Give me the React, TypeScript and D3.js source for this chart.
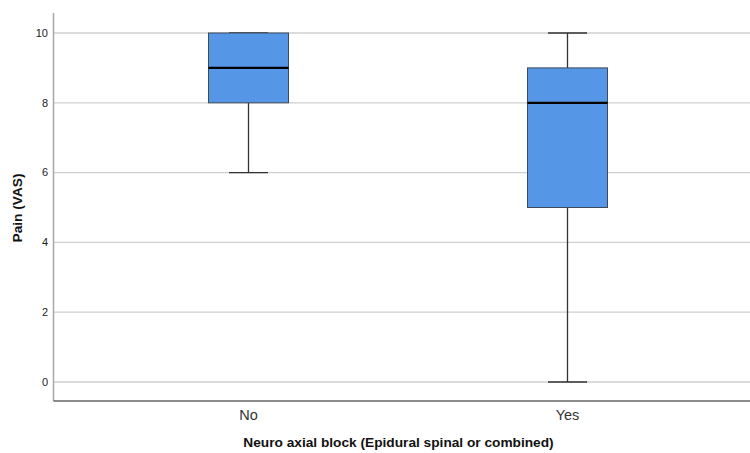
import React from "react";
import * as d3 from "d3";

const categories = ["No", "Yes"];
const minValues = [6, 0];
const q1Values = [8, 5];
const medianValues = [9, 8];
const q3Values = [10, 9];
const maxValues = [10, 10];
const yTicks = [0, 2, 4, 6, 8, 10];

const W = 750;
const H = 453;
const left = 53.5;
const right = 750;
const top = 13;
const bottom = 401;

export default function App() {
  const x = d3.scaleBand<string>().domain(categories).range([89, 727]).padding(0);
  const y = d3.scaleLinear().domain([0, 10]).range([382, 33]);
  const boxW = 80;
  const capW = 39;
  const font = "Liberation Sans, Arial, sans-serif";

  return (
    <svg width={W} height={H} style={{ position: "absolute", left: 0, top: 0 }} fontFamily={font}>
      <rect x={0} y={0} width={W} height={H} fill="#fff" />
      {yTicks.map((t) => (
        <g key={t}>
          <line x1={left} x2={right} y1={y(t)} y2={y(t)} stroke="#cfcfcf" strokeWidth={1.3} />
          <text x={48} y={y(t)} dy="0.35em" textAnchor="end" fontSize={11} fill="#222">
            {t}
          </text>
        </g>
      ))}
      <line x1={left} x2={left} y1={top} y2={bottom} stroke="#a8a8a8" strokeWidth={1.5} />
      <line x1={left} x2={right} y1={bottom} y2={bottom} stroke="#666" strokeWidth={1.3} />
      {categories.map((c, i) => {
        const cx = (x(c) as number) + x.bandwidth() / 2;
        return (
          <g key={c}>
            <line x1={cx} x2={cx} y1={y(maxValues[i])} y2={y(q3Values[i])} stroke="#333" strokeWidth={1.3} />
            <line x1={cx} x2={cx} y1={y(q1Values[i])} y2={y(minValues[i])} stroke="#333" strokeWidth={1.3} />
            <line x1={cx - capW / 2} x2={cx + capW / 2} y1={y(maxValues[i])} y2={y(maxValues[i])} stroke="#333" strokeWidth={1.3} />
            <line x1={cx - capW / 2} x2={cx + capW / 2} y1={y(minValues[i])} y2={y(minValues[i])} stroke="#333" strokeWidth={1.3} />
            <rect
              x={cx - boxW / 2}
              y={y(q3Values[i])}
              width={boxW}
              height={y(q1Values[i]) - y(q3Values[i])}
              fill="#5596e6"
              stroke="#3d4a5a"
              strokeWidth={1}
            />
            <line x1={cx - boxW / 2} x2={cx + boxW / 2} y1={y(medianValues[i])} y2={y(medianValues[i])} stroke="#000" strokeWidth={2.2} />
            <text x={cx} y={419.5} textAnchor="middle" fontSize={14.5} fill="#333">
              {c}
            </text>
          </g>
        );
      })}
      <text x={398.5} y={447} textAnchor="middle" fontSize={13.7} fontWeight="bold" fill="#111">
        Neuro axial block (Epidural spinal or combined)
      </text>
      <text transform={`translate(22,208) rotate(-90)`} textAnchor="middle" fontSize={13.7} fontWeight="bold" fill="#111">
        Pain (VAS)
      </text>
    </svg>
  );
}
